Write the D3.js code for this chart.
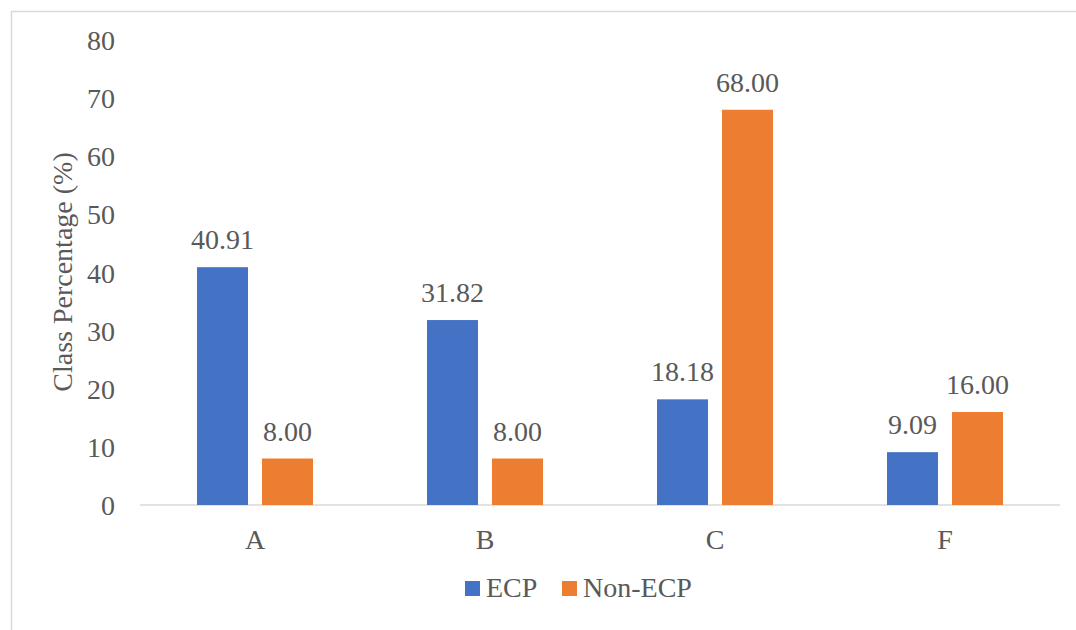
<!DOCTYPE html>
<html>
<head>
<meta charset="utf-8">
<script src="https://cdn.jsdelivr.net/npm/d3@7"></script>
<style>
  html, body { margin: 0; padding: 0; background: #ffffff; }
  svg { display: block; }
  text { font-family: "Liberation Serif", "Times New Roman", serif; fill: #595959; }
</style>
</head>
<body>
<svg id="chart" width="1076" height="630" font-family="Liberation Serif"></svg>
<script>
// Grade categories and the share of each class (%) per programme
const categories = ["A", "B", "C", "F"];
const seriesNames = ["ECP", "Non-ECP"];
const ecpValues = [40.91, 31.82, 18.18, 9.09];
const nonEcpValues = [8.00, 8.00, 68.00, 16.00];
const yTicks = [0, 10, 20, 30, 40, 50, 60, 70, 80];
const colors = ["#4472C4", "#ED7D31"];

const rows = categories.map((c, i) => ({
  category: c,
  values: [
    { series: seriesNames[0], value: ecpValues[i] },
    { series: seriesNames[1], value: nonEcpValues[i] }
  ]
}));

const svg = d3.select("#chart");
const W = 1076, H = 630;
const plot = { left: 140, right: 1060, top: 40, bottom: 505 };
const fontSize = 28;

// Chart-area frame (only the top and left edges fall inside the view)
svg.append("rect")
  .attr("x", 11.5).attr("y", 11.5)
  .attr("width", W + 20).attr("height", H + 20)
  .attr("fill", "none")
  .attr("stroke", "#D9D9D9")
  .attr("stroke-width", 1.5);

const y = d3.scaleLinear().domain([0, 80]).range([plot.bottom, plot.top]);

const pIn = 114 / 230;
const x0 = d3.scaleBand()
  .domain(categories)
  .range([plot.left, plot.right])
  .paddingInner(pIn)
  .paddingOuter(pIn / 2);

const x1 = d3.scaleBand()
  .domain(seriesNames)
  .range([0, x0.bandwidth()])
  .paddingInner(14 / 65)
  .paddingOuter(0);

const color = d3.scaleOrdinal().domain(seriesNames).range(colors);

// Y axis labels (no axis line, no ticks)
const yAxis = d3.axisLeft(y).tickValues(yTicks).tickSize(0).tickPadding(0).tickFormat(d3.format("d"));
const yG = svg.append("g").attr("transform", `translate(115,0)`).call(yAxis);
yG.attr("font-family", null);
yG.select(".domain").remove();
yG.selectAll("text")
  .attr("font-size", fontSize)
  .attr("fill", "#595959")
  .attr("dy", "0.34em");

// X axis baseline and category labels
const xAxis = d3.axisBottom(x0).tickSize(0).tickPadding(0);
const xG = svg.append("g").attr("transform", `translate(0,${plot.bottom})`).call(xAxis);
xG.attr("font-family", null);
xG.select(".domain")
  .attr("stroke", "#D9D9D9")
  .attr("stroke-width", 1.5)
  .attr("d", `M${plot.left},0H${plot.right}`);
xG.selectAll("text")
  .attr("font-size", fontSize)
  .attr("fill", "#595959")
  .attr("dy", null)
  .attr("y", 44);

// Bars
const groups = svg.append("g").selectAll("g")
  .data(rows)
  .join("g")
  .attr("transform", d => `translate(${x0(d.category)},0)`);

groups.selectAll("rect")
  .data(d => d.values)
  .join("rect")
  .attr("x", d => x1(d.series))
  .attr("width", x1.bandwidth())
  .attr("y", d => y(d.value))
  .attr("height", d => y(0) - y(d.value))
  .attr("fill", d => color(d.series));

// Value labels above bars
groups.selectAll("text.value")
  .data(d => d.values)
  .join("text")
  .attr("class", "value")
  .attr("x", d => x1(d.series) + x1.bandwidth() / 2)
  .attr("y", d => y(d.value) - 18)
  .attr("text-anchor", "middle")
  .attr("font-size", fontSize)
  .text(d => d.value.toFixed(2));

// Y axis title
svg.append("text")
  .attr("transform", `translate(${72},${272}) rotate(-90)`)
  .attr("text-anchor", "middle")
  .attr("font-size", fontSize)
  .text("Class Percentage (%)");

// Legend
const legendItems = [
  { name: seriesNames[0], x: 465 },
  { name: seriesNames[1], x: 562 }
];
const legend = svg.append("g").selectAll("g")
  .data(legendItems)
  .join("g")
  .attr("transform", d => `translate(${d.x},0)`);
legend.append("rect")
  .attr("x", 0).attr("y", 581)
  .attr("width", 15).attr("height", 15)
  .attr("fill", d => color(d.name));
legend.append("text")
  .attr("x", 21).attr("y", 597)
  .attr("font-size", fontSize)
  .text(d => d.name);
</script>
</body>
</html>
